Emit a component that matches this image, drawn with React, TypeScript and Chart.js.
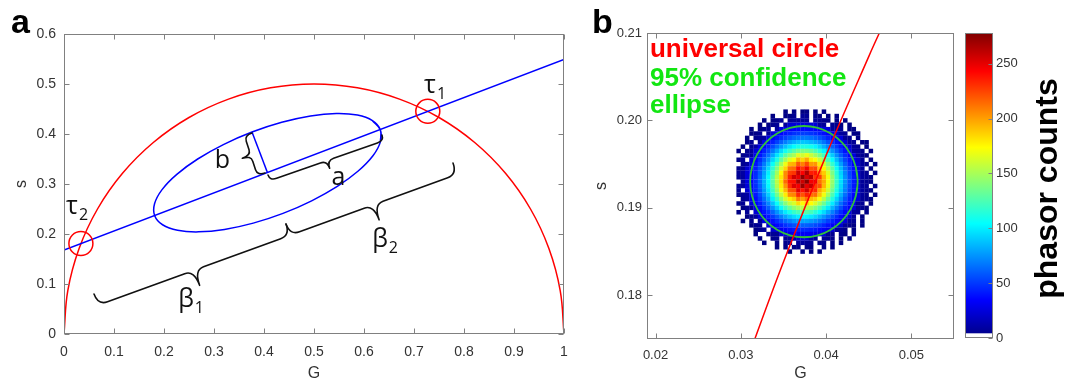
import React, { useEffect, useRef } from "react";
import { Chart, registerables } from "chart.js";

Chart.register(...registerables);

const SANS = "'Liberation Sans', Arial, Helvetica, sans-serif";
const LABEL_FONT = "'Open Sans', 'DejaVu Sans', sans-serif";
const TICK_COLOR = "#333333";
const AXIS_COLOR = "#808080";
const RED = "#ff0000";
const BLUE = "#0000ff";
const GREEN_LINE = "#2fc23a";
const GREEN_TEXT = "#12e612";

// ---------------- Panel a ----------------
const A_X_TICKS = [0, 0.1, 0.2, 0.3, 0.4, 0.5, 0.6, 0.7, 0.8, 0.9, 1];
const A_X_LABELS = ["0", "0.1", "0.2", "0.3", "0.4", "0.5", "0.6", "0.7", "0.8", "0.9", "1"];
const A_Y_TICKS = [0, 0.1, 0.2, 0.3, 0.4, 0.5, 0.6];
const A_Y_LABELS = ["0", "0.1", "0.2", "0.3", "0.4", "0.5", "0.6"];

// universal semicircle
const CIRCLE_G = [0, 0.0076, 0.0302, 0.067, 0.117, 0.1786, 0.25, 0.329, 0.4132, 0.5, 0.5868, 0.671, 0.75, 0.8214, 0.883, 0.933, 0.9698, 0.9924, 1];
const CIRCLE_S = [0, 0.0868, 0.171, 0.25, 0.3214, 0.383, 0.433, 0.4698, 0.4924, 0.5, 0.4924, 0.4698, 0.433, 0.383, 0.3214, 0.25, 0.171, 0.0868, 0];

// blue straight line
const PHASE_LINE_G = [0, 1];
const PHASE_LINE_S = [0.168, 0.549];

// blue ellipse
const ELLIPSE_G = [0.6326, 0.6169, 0.5869, 0.5446, 0.493, 0.4355, 0.376, 0.3187, 0.2674, 0.2256, 0.1961, 0.1811, 0.1814, 0.1971, 0.2271, 0.2694, 0.321, 0.3785, 0.438, 0.4953, 0.5466, 0.5884, 0.6179, 0.6329, 0.6326];
const ELLIPSE_S = [0.4086, 0.4267, 0.4378, 0.4409, 0.436, 0.4234, 0.4039, 0.3788, 0.35, 0.3193, 0.2888, 0.2605, 0.2366, 0.2185, 0.2074, 0.2043, 0.2092, 0.2218, 0.2413, 0.2664, 0.2952, 0.3259, 0.3564, 0.3847, 0.4086];

// minor half-axis segment b
const MINOR_AXIS_G = [0.407, 0.376];
const MINOR_AXIS_S = [0.3226, 0.4039];

// intersections tau1, tau2
const TAU_G = [0.7276, 0.0338];
const TAU_S = [0.4453, 0.1809];

// braces: beta1, beta2, a, b
const BRACE_FROM_G = [0.06, 0.444, 0.408, 0.376];
const BRACE_FROM_S = [0.08, 0.22, 0.318, 0.402];
const BRACE_TO_G = [0.444, 0.778, 0.636, 0.402];
const BRACE_TO_S = [0.22, 0.342, 0.398, 0.322];

// annotation labels
const LABEL_TEXT = ["τ", "τ", "b", "a", "β", "β"];
const LABEL_SUB = ["1", "2", "", "", "1", "2"];
const LABEL_G = [0.732, 0.016, 0.317, 0.549, 0.244, 0.632];
const LABEL_S = [0.496, 0.254, 0.346, 0.313, 0.068, 0.188];

// ---------------- Panel b ----------------
const B_X_TICKS = [0.02, 0.03, 0.04, 0.05];
const B_X_LABELS = ["0.02", "0.03", "0.04", "0.05"];
const B_Y_TICKS = [0.18, 0.19, 0.2, 0.21];
const B_Y_LABELS = ["0.18", "0.19", "0.20", "0.21"];

const UC_G = [0.031, 0.035, 0.04, 0.045, 0.047];
const UC_S = [0.1733, 0.1838, 0.196, 0.2073, 0.2116];

const CONF_G = [0.0437, 0.043485, 0.042856, 0.041855, 0.04055, 0.03903, 0.0374, 0.03577, 0.03425, 0.032945, 0.031944, 0.031315, 0.0311, 0.031315, 0.031944, 0.032945, 0.03425, 0.03577, 0.0374, 0.03903, 0.04055, 0.041855, 0.042856, 0.043485, 0.0437];
const CONF_S = [0.193, 0.194646, 0.19618, 0.197497, 0.198508, 0.199143, 0.19936, 0.199143, 0.198508, 0.197497, 0.19618, 0.194646, 0.193, 0.191354, 0.18982, 0.188503, 0.187492, 0.186857, 0.18664, 0.186857, 0.187492, 0.188503, 0.18982, 0.191354, 0.193];

const LEGEND_TEXT = ["universal circle", "95% confidence", "ellipse"];
const LEGEND_G = 0.01935;
const LEGEND_S = [0.20722, 0.20396, 0.20084];

const HEAT_G = [0.02975, 0.03025, 0.03075, 0.03125, 0.03175, 0.03225, 0.03275, 0.03325, 0.03375, 0.03425, 0.03475, 0.03525, 0.03575, 0.03625, 0.03675, 0.03725, 0.03775, 0.03825, 0.03875, 0.03925, 0.03975, 0.04025, 0.04075, 0.04125, 0.04175, 0.04225, 0.04275, 0.04325, 0.04375, 0.04425, 0.04475, 0.04525, 0.04575];
const HEAT_S = [0.201, 0.2005, 0.2, 0.1995, 0.199, 0.1985, 0.198, 0.1975, 0.197, 0.1965, 0.196, 0.1955, 0.195, 0.1945, 0.194, 0.1935, 0.193, 0.1925, 0.192, 0.1915, 0.191, 0.1905, 0.19, 0.1895, 0.189, 0.1885, 0.188, 0.1875, 0.187, 0.1865, 0.186, 0.1855, 0.185];
const HEAT_COUNTS = [
  [0,0,0,0,0,0,0,0,0,0,0,1,0,2,0,1,2,0,1,0,1,0,0,0,0,0,0,0,0,0,0,0,0],
  [0,0,0,0,0,0,0,0,1,0,0,2,1,5,0,7,6,0,4,2,0,1,0,1,0,0,0,0,0,0,0,0,0],
  [0,0,0,0,0,0,1,0,2,3,5,0,6,8,7,9,8,0,7,6,4,3,0,2,0,1,0,0,0,0,0,0,0],
  [0,0,0,0,0,1,0,2,4,6,0,8,23,24,26,26,25,25,24,9,7,0,5,4,1,0,2,0,0,0,0,0,0],
  [0,0,0,1,0,1,4,7,0,8,25,29,32,35,36,37,37,36,34,31,27,24,8,5,6,0,2,1,0,0,0,0,0],
  [0,0,0,1,2,5,0,7,25,30,35,40,44,48,50,51,51,49,46,42,38,33,28,23,8,6,0,2,1,0,0,0,0],
  [0,0,1,0,4,6,8,27,33,40,47,53,59,64,67,68,68,66,62,57,51,44,37,31,25,7,5,0,2,0,0,0,0],
  [0,0,1,5,0,7,28,35,43,52,61,69,77,83,87,89,88,85,80,74,66,57,49,40,32,25,8,6,0,2,1,0,0],
  [0,1,0,6,9,27,35,44,55,66,77,88,97,104,110,112,111,108,102,93,83,72,61,51,41,32,24,8,5,0,1,0,0],
  [1,0,5,8,25,33,43,55,67,81,95,108,119,128,135,138,137,133,125,115,102,89,75,62,50,39,30,9,7,4,0,1,0],
  [0,4,7,9,30,40,52,65,80,97,113,129,142,150,165,160,168,158,149,137,122,106,90,74,60,47,35,26,8,5,1,0,0],
  [2,6,0,25,34,46,60,76,93,112,131,149,165,172,194,185,197,178,173,159,142,124,105,86,69,54,41,30,22,7,0,1,0],
  [0,5,8,28,39,52,68,86,106,127,148,169,193,195,219,208,223,201,202,180,161,140,118,97,78,61,46,34,25,8,4,0,1],
  [3,7,22,31,43,57,74,94,116,139,163,185,212,214,240,229,246,221,223,191,176,153,130,107,86,67,51,38,27,9,0,2,0],
  [6,9,24,33,46,61,79,100,124,148,174,205,226,229,258,244,266,236,238,204,188,164,138,114,92,71,54,40,29,8,5,0,1],
  [5,8,24,34,47,63,82,104,128,154,180,205,235,256,249,274,253,262,229,226,195,170,144,118,95,74,56,42,30,9,6,2,0],
  [0,9,25,35,48,64,83,105,129,155,182,214,238,239,268,257,276,246,249,213,197,171,145,119,96,75,57,42,30,7,5,1,0],
  [6,8,24,34,47,62,81,103,127,152,178,203,232,252,246,271,250,259,227,222,193,168,142,117,94,73,56,41,30,8,6,0,2],
  [5,0,23,32,45,59,77,98,121,145,170,193,221,222,251,239,256,229,232,199,184,160,135,112,90,70,53,39,28,9,5,1,0],
  [2,7,9,30,41,55,72,91,112,135,157,179,205,207,232,221,235,213,214,191,170,148,125,103,83,65,49,36,26,8,4,0,1],
  [0,5,8,27,37,50,65,82,101,121,142,161,178,186,209,199,212,192,187,172,153,133,113,93,75,58,44,33,24,7,5,1,0],
  [1,6,0,24,33,43,57,72,88,106,124,141,156,163,183,175,186,174,164,150,134,117,99,82,65,51,39,29,8,6,0,1,0],
  [0,1,5,8,28,37,48,61,75,90,106,120,133,143,150,154,153,148,140,128,114,99,84,69,56,43,33,25,7,5,1,0,0],
  [1,0,6,0,23,31,40,50,62,75,87,99,110,119,124,127,127,123,115,106,95,82,70,57,46,36,27,8,6,0,2,0,0],
  [0,0,1,5,7,25,32,41,50,60,70,80,89,95,100,102,102,99,93,85,76,66,56,46,37,29,22,7,0,1,0,0,0],
  [0,1,0,4,0,7,25,32,39,47,55,63,69,75,78,80,80,77,73,67,60,52,44,36,29,23,8,5,0,2,0,0,0],
  [0,0,0,1,5,6,0,24,30,36,42,48,53,57,60,61,61,59,55,51,45,39,33,27,22,7,4,1,0,1,0,0,0],
  [0,0,0,0,1,4,6,0,22,26,31,35,39,42,44,45,45,43,41,37,33,29,25,7,5,3,0,1,0,0,0,0,0],
  [0,0,0,0,1,0,0,4,6,5,22,25,28,30,32,32,32,31,29,27,24,6,5,0,3,1,0,2,0,0,0,0,0],
  [0,0,0,0,0,1,0,0,3,5,0,6,7,10,22,23,22,10,7,0,6,5,3,0,1,0,1,0,0,0,0,0,0],
  [0,0,0,0,0,0,1,0,0,2,0,4,6,0,7,8,6,5,0,4,3,0,1,0,1,0,0,0,0,0,0,0,0],
  [0,0,0,0,0,0,0,0,0,1,0,2,0,1,3,0,2,1,0,0,2,0,1,0,0,0,0,0,0,0,0,0,0],
  [0,0,0,0,0,0,0,0,0,0,0,0,1,0,0,2,0,1,0,1,0,0,0,0,0,0,0,0,0,0,0,0,0],
];

// colorbar
const CBAR_TICKS = [0, 50, 100, 150, 200, 250];
const CBAR_LABELS = ["0", "50", "100", "150", "200", "250"];
const CBAR_MAX = 278;
const CBAR_ZERO_BAND = 4;
const CBAR_TITLE = "phasor counts";

// ---------------- helpers ----------------
const pts = (xs: number[], ys: number[]) => xs.map((x, i) => ({ x, y: ys[i] }));
const closedLoop = (p: { x: number; y: number }[]) => [p[p.length - 2], ...p, p[1]];

const clamp01 = (v: number) => Math.min(1, Math.max(0, v));
function jet(t: number) {
  t = clamp01(t);
  const r = clamp01(1.5 - Math.abs(4 * t - 3));
  const g = clamp01(1.5 - Math.abs(4 * t - 2));
  const b = clamp01(1.5 - Math.abs(4 * t - 1));
  return `rgb(${Math.round(r * 255)},${Math.round(g * 255)},${Math.round(b * 255)})`;
}
const JET_STOPS: [number, string][] = [
  [0, "rgb(0,0,128)"],
  [0.125, "rgb(0,0,255)"],
  [0.375, "rgb(0,255,255)"],
  [0.625, "rgb(255,255,0)"],
  [0.875, "rgb(255,0,0)"],
  [1, "rgb(128,0,0)"],
];

function drawFrame(chart: any, xTicks: number[] | null, yTicks: number[] | null, rightOnly: boolean) {
  const { ctx, chartArea: ca } = chart;
  const l = Math.round(ca.left) + 0.5;
  const r = Math.round(ca.right) - 0.5;
  const t = Math.round(ca.top) + 0.5;
  const b = Math.round(ca.bottom) - 0.5;
  const len = 5;
  ctx.save();
  ctx.strokeStyle = AXIS_COLOR;
  ctx.lineWidth = 1;
  ctx.strokeRect(l, t, r - l, b - t);
  ctx.beginPath();
  if (xTicks) {
    for (const v of xTicks) {
      const x = Math.round(chart.scales.x.getPixelForValue(v)) + 0.5;
      ctx.moveTo(x, b);
      ctx.lineTo(x, b - len);
      ctx.moveTo(x, t);
      ctx.lineTo(x, t + len);
    }
  }
  if (yTicks) {
    for (const v of yTicks) {
      const y = Math.round(chart.scales.y.getPixelForValue(v)) + 0.5;
      if (!rightOnly) {
        ctx.moveTo(l, y);
        ctx.lineTo(l + len, y);
      }
      ctx.moveTo(r, y);
      ctx.lineTo(r - (rightOnly ? 4 : len), y);
    }
  }
  ctx.stroke();
  ctx.restore();
}

const BRACE_STYLE = [
  { m: 12, d: 28, r: 10 },
  { m: 12, d: 28, r: 10 },
  { m: 6, d: 14, r: 7 },
  { m: 8, d: 17, r: 6 },
];

function drawBrace(ctx: CanvasRenderingContext2D, x1: number, y1: number, x2: number, y2: number, m: number, d: number, r: number) {
  const dx = x2 - x1;
  const dy = y2 - y1;
  const L = Math.hypot(dx, dy);
  const tx = dx / L;
  const ty = dy / L;
  const nx = -ty;
  const ny = tx;
  const P = (s: number, o: number): [number, number] => [x1 + tx * s + nx * o, y1 + ty * s + ny * o];
  const h = L / 2;
  ctx.beginPath();
  ctx.moveTo(...P(0, 0));
  ctx.quadraticCurveTo(...P(0, m), ...P(r, m));
  ctx.lineTo(...P(h - r, m));
  ctx.quadraticCurveTo(...P(h, m), ...P(h, d));
  ctx.quadraticCurveTo(...P(h, m), ...P(h + r, m));
  ctx.lineTo(...P(L - r, m));
  ctx.quadraticCurveTo(...P(L, m), ...P(L, 0));
  ctx.stroke();
}

const panelAPlugin = {
  id: "panelA",
  afterDatasetsDraw(chart: any) {
    const { ctx } = chart;
    const sx = chart.scales.x;
    const sy = chart.scales.y;
    ctx.save();
    ctx.strokeStyle = "#111111";
    ctx.lineWidth = 1.6;
    ctx.lineJoin = "round";
    ctx.lineCap = "round";
    for (let i = 0; i < BRACE_FROM_G.length; i++) {
      const st = BRACE_STYLE[i];
      drawBrace(
        ctx,
        sx.getPixelForValue(BRACE_FROM_G[i]),
        sy.getPixelForValue(BRACE_FROM_S[i]),
        sx.getPixelForValue(BRACE_TO_G[i]),
        sy.getPixelForValue(BRACE_TO_S[i]),
        st.m,
        st.d,
        st.r
      );
    }
    ctx.fillStyle = "#111111";
    for (let i = 0; i < LABEL_TEXT.length; i++) {
      const x = sx.getPixelForValue(LABEL_G[i]);
      const y = sy.getPixelForValue(LABEL_S[i]);
      ctx.font = `25px ${LABEL_FONT}`;
      ctx.textAlign = "center";
      ctx.textBaseline = "middle";
      ctx.fillText(LABEL_TEXT[i], x, y);
      if (LABEL_SUB[i]) {
        const w = ctx.measureText(LABEL_TEXT[i]).width;
        ctx.font = `16px ${LABEL_FONT}`;
        ctx.textAlign = "left";
        ctx.fillText(LABEL_SUB[i], x + w / 2 + 1, y + 8);
      }
    }
    ctx.font = `bold 34px ${SANS}`;
    ctx.textAlign = "left";
    ctx.textBaseline = "alphabetic";
    ctx.fillStyle = "#000";
    ctx.fillText("a", 11, 33);
    ctx.restore();
    drawFrame(chart, A_X_TICKS, A_Y_TICKS, false);
  },
};

const panelBPlugin = {
  id: "panelB",
  afterDatasetsDraw(chart: any) {
    const { ctx } = chart;
    const sx = chart.scales.x;
    const sy = chart.scales.y;
    ctx.save();
    ctx.font = `bold 26px ${SANS}`;
    ctx.textAlign = "left";
    ctx.textBaseline = "alphabetic";
    LEGEND_TEXT.forEach((t, i) => {
      ctx.fillStyle = i === 0 ? RED : GREEN_TEXT;
      ctx.fillText(t, sx.getPixelForValue(LEGEND_G), sy.getPixelForValue(LEGEND_S[i]));
    });
    ctx.font = `bold 34px ${SANS}`;
    ctx.fillStyle = "#000";
    ctx.fillText("b", 12, 33);
    ctx.restore();
    drawFrame(chart, B_X_TICKS, B_Y_TICKS, false);
  },
};

const colorbarPlugin = {
  id: "cbar",
  afterDatasetsDraw(chart: any) {
    const { ctx, chartArea: ca } = chart;
    drawFrame(chart, null, CBAR_TICKS, true);
    ctx.save();
    ctx.translate(ca.right + 55, (ca.top + ca.bottom) / 2 + 3);
    ctx.rotate(-Math.PI / 2);
    ctx.font = `bold 32px ${SANS}`;
    ctx.fillStyle = "#000";
    ctx.textAlign = "center";
    ctx.textBaseline = "middle";
    ctx.fillText(CBAR_TITLE, 0, 0);
    ctx.restore();
  },
};

function fixedTicks(values: number[]) {
  return (scale: any) => {
    scale.ticks = values.map((value) => ({ value }));
  };
}

function axis(opts: any) {
  return {
    type: "linear",
    min: opts.min,
    max: opts.max,
    position: opts.position,
    grid: { display: false, drawTicks: false },
    border: { display: false },
    afterBuildTicks: fixedTicks(opts.ticks),
    afterFit: opts.afterFit,
    ticks: {
      padding: opts.padding,
      color: TICK_COLOR,
      font: { size: opts.fontSize, family: SANS },
      maxRotation: 0,
      autoSkip: false,
      callback: (_v: any, i: number) => opts.labels[i],
    },
    title: opts.title
      ? {
          display: true,
          text: opts.title,
          color: TICK_COLOR,
          font: { size: 16, family: SANS, lineHeight: 1.2 },
          padding: opts.titlePadding,
        }
      : { display: false },
  };
}

const baseOptions = {
  responsive: false,
  animation: false,
  devicePixelRatio: 1,
  events: [],
  plugins: { legend: { display: false }, tooltip: { enabled: false } },
};

export default function App() {
  const refA = useRef<HTMLCanvasElement>(null);
  const refB = useRef<HTMLCanvasElement>(null);
  const refC = useRef<HTMLCanvasElement>(null);

  useEffect(() => {
    const charts: Chart[] = [];

    // ---------- panel a ----------
    charts.push(
      new Chart(refA.current!, {
        type: "scatter",
        data: {
          datasets: [
            { type: "line", data: pts(CIRCLE_G, CIRCLE_S), borderColor: RED, borderWidth: 1.5, pointRadius: 0, tension: 0.4, fill: false, order: 3 },
            { type: "line", data: pts(PHASE_LINE_G, PHASE_LINE_S), borderColor: BLUE, borderWidth: 1.5, pointRadius: 0, fill: false, order: 2 },
            { type: "line", data: closedLoop(pts(ELLIPSE_G, ELLIPSE_S)), borderColor: BLUE, borderWidth: 1.5, pointRadius: 0, tension: 0.4, fill: false, order: 2 },
            { type: "line", data: pts(MINOR_AXIS_G, MINOR_AXIS_S), borderColor: BLUE, borderWidth: 1.5, pointRadius: 0, fill: false, order: 2 },
            { type: "scatter", data: pts(TAU_G, TAU_S), pointRadius: 12, pointBackgroundColor: "rgba(0,0,0,0)", pointBorderColor: RED, pointBorderWidth: 1.5, order: 0 },
          ],
        } as any,
        options: {
          ...baseOptions,
          layout: { padding: { left: 0, top: 34, right: 16, bottom: 0 } },
          scales: {
            x: axis({ min: 0, max: 1, position: "bottom", ticks: A_X_TICKS, labels: A_X_LABELS, padding: 10, fontSize: 14, title: "G", titlePadding: { top: 0, bottom: 0 }, afterFit: (s: any) => { s.height = 49; } }),
            y: axis({ min: 0, max: 0.6, position: "left", ticks: A_Y_TICKS, labels: A_Y_LABELS, padding: 8, fontSize: 14, title: "s", titlePadding: { top: 12, bottom: 0 }, afterFit: (s: any) => { s.width = 64; } }),
          },
        } as any,
        plugins: [panelAPlugin],
      })
    );

    // ---------- panel b ----------
    const heatPoints: { x: number; y: number }[] = [];
    const heatColors: string[] = [];
    HEAT_COUNTS.forEach((row, j) =>
      row.forEach((v, k) => {
        if (v > 0) {
          heatPoints.push({ x: HEAT_G[k], y: HEAT_S[j] });
          heatColors.push(jet(v / CBAR_MAX));
        }
      })
    );

    charts.push(
      new Chart(refB.current!, {
        type: "scatter",
        data: {
          datasets: [
            { type: "scatter", data: heatPoints, pointStyle: "rect", pointRadius: 3.2, pointBackgroundColor: heatColors, pointBorderWidth: 0, order: 3 },
            { type: "line", data: closedLoop(pts(CONF_G, CONF_S)), borderColor: GREEN_LINE, borderWidth: 1.8, pointRadius: 0, tension: 0.4, fill: false, order: 1 },
            { type: "line", data: pts(UC_G, UC_S), borderColor: RED, borderWidth: 1.5, pointRadius: 0, tension: 0.4, fill: false, order: 0 },
          ],
        } as any,
        options: {
          ...baseOptions,
          layout: { padding: { left: 0, top: 33, right: 6, bottom: 0 } },
          scales: {
            x: axis({ min: 0.019, max: 0.055, position: "bottom", ticks: B_X_TICKS, labels: B_X_LABELS, padding: 9, fontSize: 13, title: "G", titlePadding: { top: 0, bottom: 0 }, afterFit: (s: any) => { s.height = 44; } }),
            y: axis({ min: 0.175, max: 0.21, position: "left", ticks: B_Y_TICKS, labels: B_Y_LABELS, padding: 5, fontSize: 13, title: "s", titlePadding: { top: 12, bottom: 0 }, afterFit: (s: any) => { s.width = 67; } }),
          },
        } as any,
        plugins: [panelBPlugin],
      })
    );

    // ---------- colorbar ----------
    const gradientFill = (c: any) => {
      const ch = c.chart;
      if (!ch.chartArea) return "#0000ff";
      const y0 = ch.scales.y.getPixelForValue(0);
      const y1 = ch.scales.y.getPixelForValue(CBAR_MAX);
      const g = ch.ctx.createLinearGradient(0, y0, 0, y1);
      JET_STOPS.forEach(([t, col]) => g.addColorStop(t, col));
      return g;
    };
    charts.push(
      new Chart(refC.current!, {
        type: "bar",
        data: {
          labels: [""],
          datasets: [
            { data: [CBAR_ZERO_BAND], backgroundColor: "#ffffff", borderWidth: 0, barPercentage: 1, categoryPercentage: 1, inflateAmount: 0 },
            { data: [CBAR_MAX - CBAR_ZERO_BAND], backgroundColor: gradientFill, borderWidth: 0, barPercentage: 1, categoryPercentage: 1, inflateAmount: 0 },
          ],
        } as any,
        options: {
          ...baseOptions,
          layout: { padding: { left: 10, top: 33, right: 0, bottom: 45 } },
          scales: {
            x: { display: false, stacked: true },
            y: {
              ...axis({ min: 0, max: CBAR_MAX, position: "right", ticks: CBAR_TICKS, labels: CBAR_LABELS, padding: 3, fontSize: 13, title: null, afterFit: (s: any) => { s.width = 80; } }),
              stacked: true,
            },
          },
        } as any,
        plugins: [colorbarPlugin],
      })
    );

    return () => charts.forEach((c) => c.destroy());
  }, []);

  return (
    <div style={{ position: "absolute", left: 0, top: 0, width: 1073, height: 383, background: "#fff", overflow: "hidden" }}>
      <canvas ref={refA} width={580} height={383} style={{ position: "absolute", left: 0, top: 0, width: 580, height: 383 }} />
      <canvas ref={refB} width={380} height={383} style={{ position: "absolute", left: 580, top: 0, width: 380, height: 383 }} />
      <canvas ref={refC} width={118} height={383} style={{ position: "absolute", left: 955, top: 0, width: 118, height: 383 }} />
    </div>
  );
}
